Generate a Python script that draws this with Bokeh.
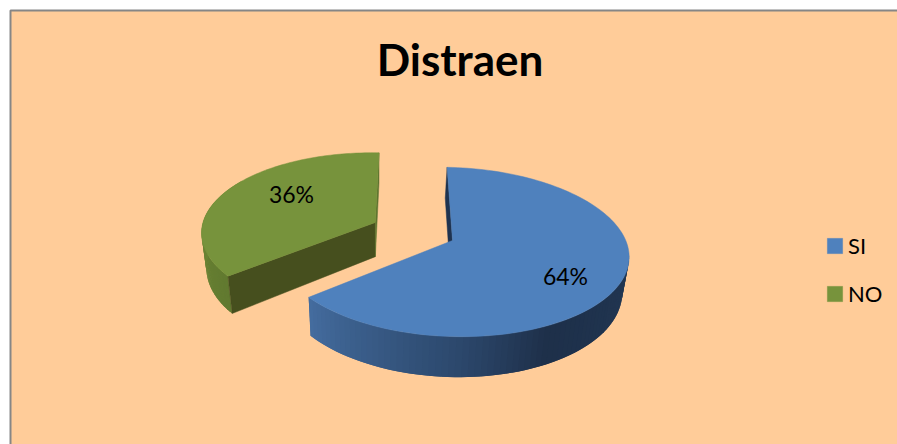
from math import sin, cos, radians
import numpy as np
from bokeh.plotting import figure
from bokeh.models import Range1d, Legend, LegendItem
from bokeh.core.properties import value
from bokeh.embed import file_html
from bokeh.resources import INLINE

# data
title_text = "Distraen"
categories = ["SI", "NO"]
shares = [64, 36]
explode = [0.0, 0.493]

# layout / styles
BG = "#FFCC99"
TOP = ["#4F81BD", "#77933C"]
CX, CY, RX, RY, K, DEPTH, FX, CVX = 452, 240, 175, 83, 0.136, 35, 0.9726, 378
ROLL = 5
START = -2
LABEL_POS = [(565, 275), (291, 193)]


def project(X, Z, lower=False):
    s = 1 / (1 + K * Z)
    x = CX + RX * X * s
    y = CY - RY * Z * s + ROLL * X
    if lower:
        x = CVX + (x - CVX) * FX
        y = y + DEPTH * s
    return x, y


def lerp(stops, t):
    for (t0, c0), (t1, c1) in zip(stops, stops[1:]):
        if t <= t1:
            f = (t - t0) / (t1 - t0)
            return "#%02x%02x%02x" % tuple(int(a + (b - a) * f) for a, b in zip(c0, c1))
    return "#%02x%02x%02x" % stops[-1][1]


p = figure(width=897, height=444, output_backend="svg", toolbar_location=None,
           x_range=Range1d(0, 897), y_range=Range1d(444, 0), min_border=0,
           background_fill_color="white", border_fill_color="white", outline_line_color=None)
p.axis.visible = False
p.grid.visible = False

p.quad(left=[10], right=[960], top=[10], bottom=[500], fill_color=BG,
       line_color="#868686", line_width=2)

p.text(x=[459.5], y=[58], text=[title_text], text_font=value("Lato"), text_font_style="bold",
       text_font_size="44px", text_align="center", text_baseline="middle", text_color="black")

# angular spans derived from the shares
total = sum(shares)
spans = []
a = START
for v in shares:
    b = a + 360 * v / total
    spans.append((a, b))
    a = b

side_stops = [
    [(0.0, (34, 56, 84)), (0.42, (30, 48, 74)), (0.62, (44, 72, 108)), (1.0, (68, 108, 158))],
    [(0.0, (98, 122, 48)), (1.0, (116, 142, 58))],
]
side_ranges = [(95, spans[0][1]), (spans[1][0], 300)]

order = [1, 0]
tops = {}
for i in order:
    a0, a1 = spans[i]
    mid = radians((a0 + a1) / 2)
    ex, ez = explode[i] * sin(mid), explode[i] * cos(mid)

    def pt(theta, r=1.0, lower=False):
        t = radians(theta)
        return project(ex + r * sin(t), ez + r * cos(t), lower)

    xs, ys, cs = [], [], []
    s0, s1 = side_ranges[i]
    n = 70
    step = (s1 - s0) / n
    for j in range(n):
        t0 = s0 + j * step
        t1 = min(t0 + 2 * step, s1)
        q = [pt(t0), pt(t1), pt(t1, lower=True), pt(t0, lower=True)]
        xs.append([c[0] for c in q])
        ys.append([c[1] for c in q])
        cs.append(lerp(side_stops[i], j / (n - 1)))
    p.patches(xs, ys, fill_color=cs, line_color=None)

    if i == 1:
        # cut faces of the exploded slice
        q = [pt(a0, 0), pt(a0), pt(a0, lower=True), pt(a0, 0, lower=True)]
        p.patch([c[0] for c in q], [c[1] for c in q], fill_color="#464F1E", line_color="#464F1E", line_width=0.5)
        q = [pt(a1, 0), pt(a1), pt(a1, lower=True), pt(a1, 0, lower=True)]
        p.patch([c[0] for c in q], [c[1] for c in q], fill_color="#5F7530", line_color="#5F7530", line_width=0.5)
    else:
        q = [pt(a0, 0), pt(a0), pt(a0, lower=True), pt(a0, 0, lower=True)]
        p.patch([c[0] for c in q], [c[1] for c in q], fill_color="#1F3350", line_color="#1F3350", line_width=0.5)

    arc = [pt(t) for t in np.linspace(a0, a1, 120)]
    outline = [pt(a0, 0)] + arc
    tops[i] = p.patch([c[0] for c in outline], [c[1] for c in outline], fill_color=TOP[i],
                      line_color=TOP[i], line_width=0.5)

# percentage labels
p.text([c[0] for c in LABEL_POS], [c[1] for c in LABEL_POS], [f"{v}%" for v in shares],
       text_font=value("Lato"), text_font_size="23px", text_align="center",
       text_baseline="middle", text_color="black")

legend = Legend(items=[LegendItem(label=value(c), renderers=[tops[i]]) for i, c in enumerate(categories)],
                location=(825, 137), orientation="vertical", background_fill_alpha=0,
                border_line_color=None, padding=0, margin=0, spacing=29 - 8,
                glyph_width=19, glyph_height=19, label_standoff=4,
                label_text_font="Lato", label_text_font_size="22px", label_text_color="black",
                label_text_baseline="middle", label_height=19)
p.add_layout(legend)

open("out.html", "w").write(file_html(p, INLINE))
